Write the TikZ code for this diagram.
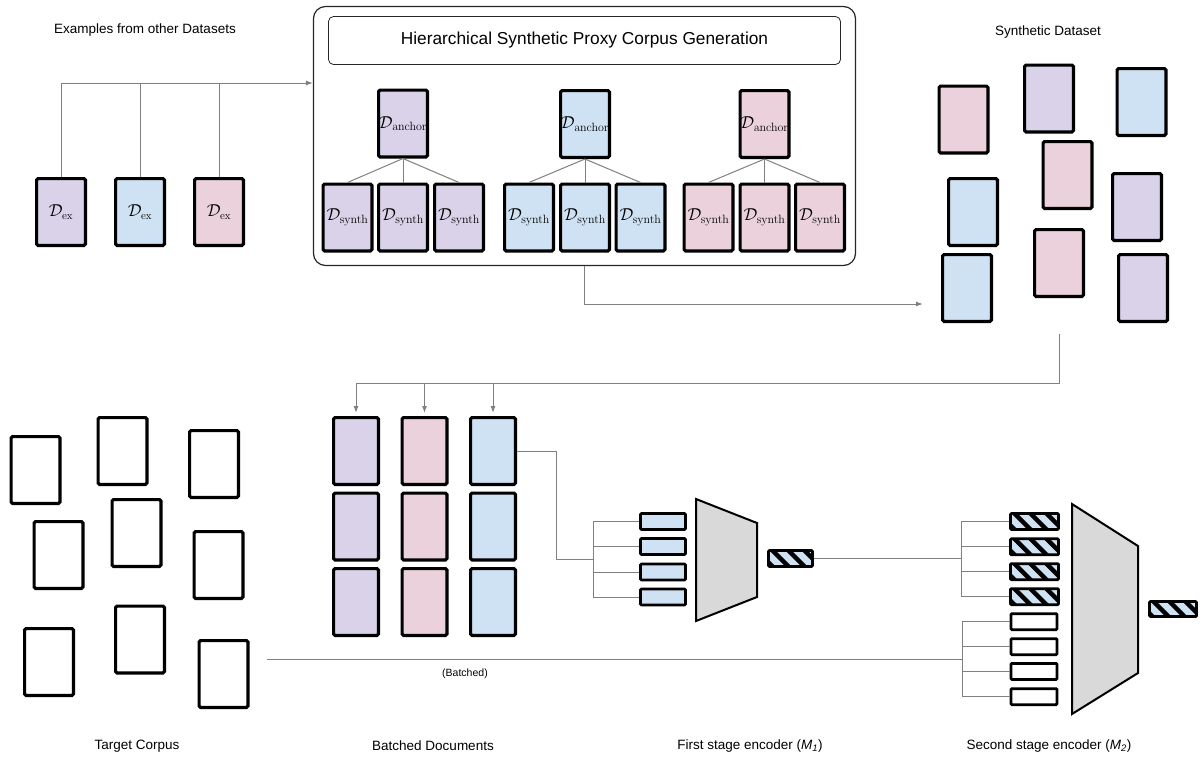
\documentclass[tikz,border=0pt]{standalone}
\usepackage[no-math]{fontspec}
\setmainfont{Liberation Sans}
\usetikzlibrary{arrows.meta,calc}
\definecolor{cpurple}{HTML}{D9D2E9}
\definecolor{cblue}{HTML}{CFE2F3}
\definecolor{cpink}{HTML}{EAD1DC}
\definecolor{lgray}{HTML}{808080}
\definecolor{tgray}{HTML}{D9D9D9}
\tikzset{
  doc/.style={draw=black, line width=3.2pt, rounded corners=1.5pt, minimum width=48.8pt, minimum height=66.8pt, inner sep=0pt},
  bdoc/.style={doc, minimum width=44.8pt},
  mathlbl/.style={font=\fontsize{18.5}{20}\selectfont},
  exlbl/.style={font=\fontsize{16}{18}\selectfont},
  conn/.style={draw=lgray, line width=1pt},
  arr/.style={conn, -{Latex[length=7pt,width=5pt]}},
  tok/.style={draw=black, line width=2.8pt, rounded corners=1pt, minimum width=45pt, minimum height=16pt, inner sep=0pt},
  hatch/.style={tok, fill=cblue,
    path picture={
      \foreach \k in {-2,...,4}{
        \draw[black, line width=4.5pt] ($(path picture bounding box.north west)+(\k*16pt,4pt)$) -- ++(26pt,-26pt);
      }
    }},
  lbl/.style={font=\fontsize{13.5}{16}\selectfont, inner sep=0pt},
  enc/.style={draw=black, line width=2pt, fill=tgray, line join=miter}
}
\begin{document}
\begin{tikzpicture}[x=1pt, y=-1pt]
\useasboundingbox (0,0) rectangle (1203,756);

% ---------- labels ----------
\node[lbl] (lex) at (145,30) {Examples from other Datasets};
\node[lbl] (lsyn) at (1048,32) {Synthetic Dataset};
\node[lbl] (ltc) at (137,746) {Target Corpus};
\node[lbl] (lbd) at (433,746) {Batched Documents};
\node[lbl] (lm1) at (750,746) {First stage encoder (\textit{M}\textsubscript{\textit{1}})};
\node[lbl] (lm2) at (1049,746) {Second stage encoder (\textit{M}\textsubscript{\textit{2}})};
\node[font=\fontsize{10.5}{12}\selectfont, inner sep=0pt] (lbatched) at (465,674) {(Batched)};

% ---------- examples ----------
\node[doc, fill=cpurple, exlbl] (e1) at (61,212) {$\mathcal{D}_{\mathrm{ex}}$};
\node[doc, fill=cblue, exlbl]   (e2) at (140,212) {$\mathcal{D}_{\mathrm{ex}}$};
\node[doc, fill=cpink, exlbl]   (e3) at (219,212) {$\mathcal{D}_{\mathrm{ex}}$};

% ---------- generation box ----------
\node[draw=black!85, line width=1.2pt, rounded corners=12pt, minimum width=542pt, minimum height=259pt, inner sep=0pt] (gen) at (584.5,136) {};
\node[draw=black!85, line width=0.8pt, rounded corners=5pt, minimum width=512pt, minimum height=48pt, inner sep=0pt,
      font=\fontsize{17.3}{20}\selectfont] (title) at (584.5,40.5) {Hierarchical Synthetic Proxy Corpus Generation};

\coordinate (busA) at (61,83);
\draw[conn] (e1.north) -- (busA);
\draw[conn] (e2.north) -- (e2.north |- busA);
\draw[conn] (e3.north) -- (e3.north |- busA);
\draw[arr] (busA) -- (gen.west |- busA);

% anchors
\node[doc, fill=cpurple, mathlbl] (a1) at (403,123.5) {$\mathcal{D}_{\mathrm{anchor}}$};
\node[doc, fill=cblue,   mathlbl] (a2) at (585,124) {$\mathcal{D}_{\mathrm{anchor}}$};
\node[doc, fill=cpink,   mathlbl] (a3) at (764.5,124) {$\mathcal{D}_{\mathrm{anchor}}$};
% synth
\node[doc, fill=cpurple, mathlbl] (s11) at (347.5,217.5) {$\mathcal{D}_{\mathrm{synth}}$};
\node[doc, fill=cpurple, mathlbl] (s12) at (403,217.5) {$\mathcal{D}_{\mathrm{synth}}$};
\node[doc, fill=cpurple, mathlbl] (s13) at (459,217.5) {$\mathcal{D}_{\mathrm{synth}}$};
\node[doc, fill=cblue, mathlbl] (s21) at (529,217.5) {$\mathcal{D}_{\mathrm{synth}}$};
\node[doc, fill=cblue, mathlbl] (s22) at (585,217.5) {$\mathcal{D}_{\mathrm{synth}}$};
\node[doc, fill=cblue, mathlbl] (s23) at (640.5,217.5) {$\mathcal{D}_{\mathrm{synth}}$};
\node[doc, fill=cpink, mathlbl] (s31) at (708.5,217.5) {$\mathcal{D}_{\mathrm{synth}}$};
\node[doc, fill=cpink, mathlbl] (s32) at (764.5,217.5) {$\mathcal{D}_{\mathrm{synth}}$};
\node[doc, fill=cpink, mathlbl] (s33) at (820,217.5) {$\mathcal{D}_{\mathrm{synth}}$};
\foreach \g in {1,2,3}{
  \foreach \s in {1,2,3}{
    \draw[conn] (a\g.south) -- (s\g\s.north);
  }
}

% ---------- synthetic dataset ----------
\node[doc, fill=cpink]   (sd1) at (963.5,119.5) {};
\node[doc, fill=cpurple] (sd2) at (1049,98.5) {};
\node[doc, fill=cblue]   (sd3) at (1141.5,102) {};
\node[doc, fill=cpink]   (sd4) at (1067.5,175) {};
\node[doc, fill=cblue]   (sd5) at (973,212) {};
\node[doc, fill=cpurple] (sd6) at (1137,207) {};
\node[doc, fill=cpink]   (sd7) at (1059,263) {};
\node[doc, fill=cblue]   (sd8) at (967,288) {};
\node[doc, fill=cpurple] (sd9) at (1143,288) {};

\coordinate (synin) at (923,304);
\draw[arr] (gen.south) |- (synin);

% ---------- batched documents ----------
\foreach \r/\y in {1/451,2/526.5,3/602}{
  \node[bdoc, fill=cpurple] (b\r1) at (356,\y) {};
  \node[bdoc, fill=cpink]   (b\r2) at (424.5,\y) {};
  \node[bdoc, fill=cblue]   (b\r3) at (493,\y) {};
}
\coordinate (synout) at (1059,334);
\coordinate (bbus) at (1059,383);
\draw[conn] (synout) -- (bbus) -- (bbus -| b11.north);
\foreach \c in {1,2,3}{
  \draw[arr, shorten >=3pt] (bbus -| b1\c.north) -- (b1\c.north);
}

% ---------- first stage encoder ----------
\foreach \i/\y in {1/521.5,2/546.5,3/572,4/597}{
  \node[tok, fill=cblue] (f\i) at (663,\y) {};
}
\coordinate (bus1) at (593,559);
\draw[conn] (b13.east) -- (556,451) |- (bus1);
\draw[conn] (bus1 |- f1.west) -- (bus1 |- f4.west);
\foreach \i in {1,...,4}{
  \draw[conn] (f\i.west) -- (f\i.west -| bus1);
}
\draw[enc] (696,499) -- (757,523) -- (757,597) -- (696,621) -- cycle;
\node[hatch, minimum width=44pt, minimum height=16pt] (h1) at (790.5,558.5) {};

% ---------- second stage encoder ----------
\foreach \i/\y in {1/521.5,2/546.8,3/571.7,4/596.7}{
  \node[hatch, minimum width=48pt] (g\i) at (1034.5,\y) {};
}
\foreach \i/\y in {1/621.7,2/646.7,3/671.4,4/696.7}{
  \node[tok, fill=white, minimum width=46pt] (t\i) at (1034,\y) {};
}
\coordinate (bus2) at (961,558.5);
\draw[conn] (h1.east) -- (bus2);
\draw[conn] (bus2 |- g1.west) -- (bus2 |- g4.west);
\foreach \i in {1,...,4}{
  \draw[conn] (g\i.west) -- (g\i.west -| bus2);
}
\coordinate (tcout) at (267,659);
\coordinate (bus3) at (962,659);
\draw[conn] (tcout) -- (bus3);
\draw[conn] (bus3 |- t1.west) -- (bus3 |- t4.west);
\foreach \i in {1,...,4}{
  \draw[conn] (t\i.west) -- (t\i.west -| bus3);
}
\draw[enc] (1072,504) -- (1138,546) -- (1138,673) -- (1072,714) -- cycle;
\node[hatch, minimum width=47pt, minimum height=15pt] (h2) at (1173,609) {};

% ---------- target corpus ----------
\node[doc, fill=white] (tc1) at (35.5,470) {};
\node[doc, fill=white] (tc2) at (122.5,451) {};
\node[doc, fill=white] (tc3) at (214,464) {};
\node[doc, fill=white] (tc4) at (58.5,555) {};
\node[doc, fill=white] (tc5) at (136.5,533) {};
\node[doc, fill=white] (tc6) at (218.5,565) {};
\node[doc, fill=white] (tc7) at (49,662) {};
\node[doc, fill=white] (tc8) at (140,639.5) {};
\node[doc, fill=white] (tc9) at (223.5,674) {};
\end{tikzpicture}
\end{document}
